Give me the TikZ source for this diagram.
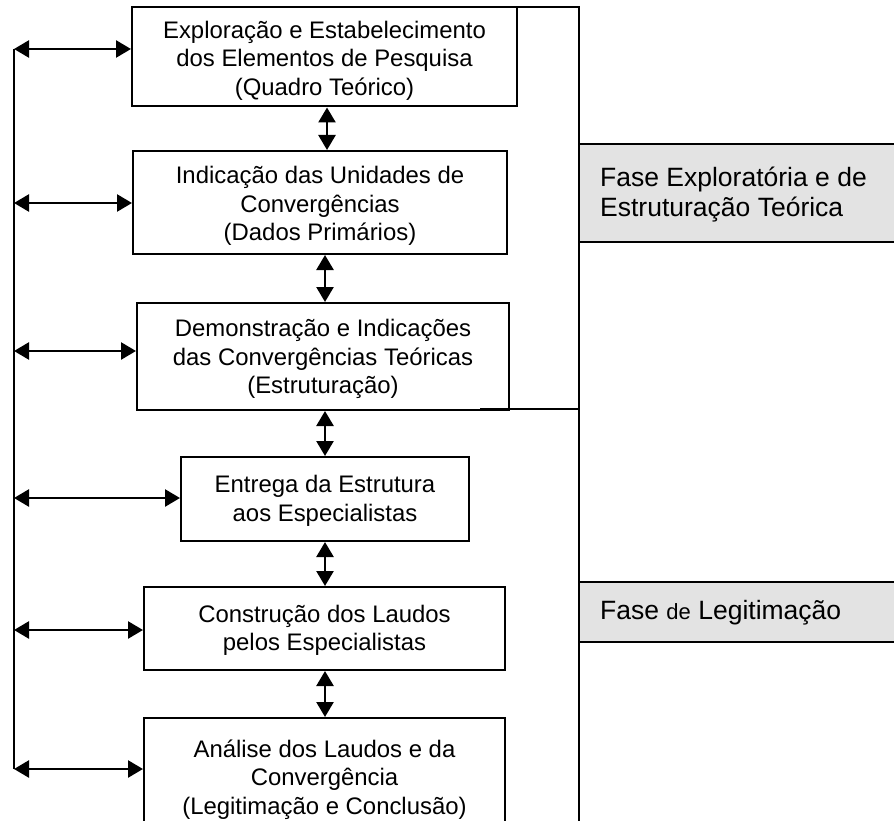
\documentclass[tikz,border=0pt]{standalone}
\usepackage{fontspec}
\setmainfont{Liberation Sans}
\usetikzlibrary{arrows.meta}
\definecolor{phasegray}{RGB}{227,227,227}
\begin{document}
\begin{tikzpicture}[x=1pt,y=-1pt,
  stagebox/.style={draw,line width=2pt,fill=white,inner sep=0pt},
  stagetext/.style={align=center,inner sep=0pt,font=\fontsize{23.9}{28.5}\selectfont},
  phasebox/.style={draw,line width=2pt,fill=phasegray,inner sep=0pt},
  phasetext/.style={anchor=west,align=left,inner sep=0pt,font=\fontsize{26.5}{30}\selectfont},
  dbl/.style={line width=2.5pt,{Triangle[length=15pt,width=17pt]}-{Triangle[length=15pt,width=17pt]}},
  frameline/.style={line width=1.8pt}]
\useasboundingbox (0,0) rectangle (894,821);
\clip (0,0) rectangle (894,821);
% phase boxes
\node[phasebox,minimum width=325pt,minimum height=98pt] (g1) at (741.5,193) {};
\node[phasebox,minimum width=325pt,minimum height=60pt] (g2) at (741.5,612) {};
\node[phasetext] (g1t) at (600,195) {Fase Exploratória e de\\Estruturação Teórica};
\node[phasetext] (g2t) at (600,613) {Fase {\fontsize{22}{26}\selectfont de} Legitimação};
% bracket lines
\coordinate (bt0) at (507,7);
\coordinate (bt1) at (579,7);
\coordinate (bt2) at (579,830);
\coordinate (bb0) at (480,409);
\coordinate (bb1) at (579,409);
\draw[frameline] (bt0) -- (bt1) -- (bt2);
% stage boxes
\node[stagebox,minimum width=385pt,minimum height=99pt] (b1) at (324.5,57) {};
\node[stagebox,minimum width=374pt,minimum height=103pt] (b2) at (320,202.5) {};
\node[stagebox,minimum width=372pt,minimum height=107pt] (b3) at (323,356.5) {};
\node[stagebox,minimum width=288pt,minimum height=84pt] (b4) at (325,499) {};
\node[stagebox,minimum width=361pt,minimum height=83pt] (b5) at (324.5,628.5) {};
\node[stagebox,minimum width=361pt,minimum height=118pt] (b6) at (324.5,777) {};
\node[stagetext] (t1) at ([yshift=-3.5pt]b1.center) {Exploração e Estabelecimento\\dos Elementos de Pesquisa\\(Quadro Teórico)};
\node[stagetext] (t2) at ([yshift=-3.5pt]b2.center) {Indicação das Unidades de\\Convergências\\(Dados Primários)};
\node[stagetext] (t3) at ([yshift=-2.5pt]b3.center) {Demonstração e Indicações\\das Convergências Teóricas\\(Estruturação)};
\node[stagetext] (t4) at ([yshift=-2pt]b4.center) {Entrega da Estrutura\\aos Especialistas};
\node[stagetext] (t5) at ([yshift=-2pt]b5.center) {Construção dos Laudos\\pelos Especialistas};
\node[stagetext] (t6) at ([yshift=-2.5pt]b6.center) {Análise dos Laudos e da\\Convergência\\(Legitimação e Conclusão)};
\draw[frameline] (bb0) -- (bb1);
% vertical arrows
\coordinate (ax1) at (327,0);
\coordinate (ax) at (325,0);
\draw[dbl] (b1.south -| ax1) -- (b2.north -| ax1);
\draw[dbl] (b2.south -| ax) -- (b3.north -| ax);
\draw[dbl] (b3.south -| ax) -- (b4.north -| ax);
\draw[dbl] (b4.south -| ax) -- (b5.north -| ax);
\draw[dbl] (b5.south -| ax) -- (b6.north -| ax);
% left feedback line
\coordinate (l1) at (14,49);
\coordinate (l2) at (14,203);
\coordinate (l3) at (14,351);
\coordinate (l4) at (14,498);
\coordinate (l5) at (14,630);
\coordinate (l6) at (14,769);
\draw[line width=2.5pt] (l1) -- (l6);
\draw[dbl] (l1) -- (l1 -| b1.west);
\draw[dbl] (l2) -- (l2 -| b2.west);
\draw[dbl] (l3) -- (l3 -| b3.west);
\draw[dbl] (l4) -- (l4 -| b4.west);
\draw[dbl] (l5) -- (l5 -| b5.west);
\draw[dbl] (l6) -- (l6 -| b6.west);
\end{tikzpicture}
\end{document}
